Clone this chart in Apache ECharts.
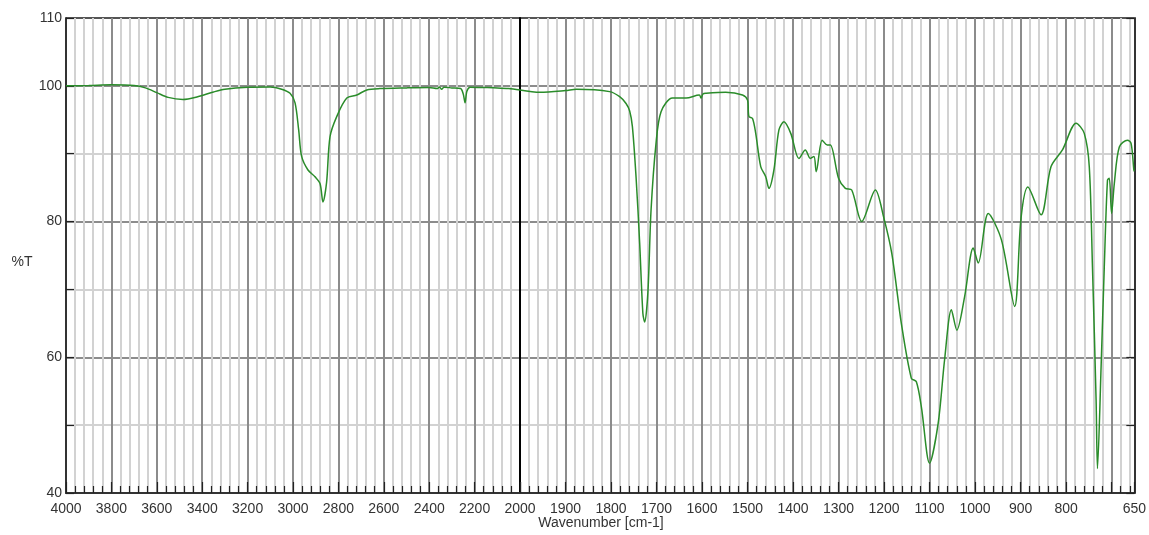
<!DOCTYPE html>
<html>
<head>
<meta charset="utf-8">
<script src="https://cdn.jsdelivr.net/npm/echarts@6/dist/echarts.min.js"></script>
<style>html,body{margin:0;padding:0;background:#fff}#c{width:1149px;height:535px}</style>
</head>
<body>
<div id="c"></div>
<script>
// ---- data ----
const wavenumbers = [4000, 3900, 3800, 3700, 3650, 3600, 3550, 3485, 3420, 3350, 3300, 3200, 3100, 3050, 3013, 2991, 2975, 2962, 2934, 2903, 2881, 2868, 2852, 2837, 2807, 2763, 2719, 2675, 2617, 2500, 2400, 2365, 2355, 2345, 2335, 2300, 2262, 2250, 2242, 2234, 2220, 2150, 2100, 2050, 2000,
  1956, 1900, 1876, 1803, 1781, 1767, 1759, 1753, 1745, 1737, 1730, 1726, 1719, 1712, 1701, 1690, 1665, 1635, 1606, 1602, 1598, 1591, 1548, 1511, 1500, 1497, 1489, 1482, 1471, 1460, 1453, 1442, 1431, 1420, 1405, 1387, 1373, 1362, 1354, 1349, 1336, 1325, 1318, 1300, 1285, 1271, 1249, 1219, 1201, 1183, 1162, 1140, 1129, 1118, 1100, 1081, 1067, 1052, 1040, 1023, 1004, 993, 971, 942, 913, 899, 884, 855, 833, 808, 778, 760, 749, 742, 734, 731, 723, 716, 709, 705, 700, 694, 683, 665, 657, 651, 650];
const transmittance = [100.0, 100.05, 100.15, 100.05, 99.7, 99.0, 98.3, 98.0, 98.4, 99.1, 99.5, 99.8, 99.85, 99.5, 98.9, 97.5, 93.5, 89.6, 87.6, 86.6, 85.6, 82.9, 85.8, 92.5, 95.5, 98.2, 98.65, 99.4, 99.6, 99.7, 99.75, 99.6, 99.85, 99.5, 99.8, 99.7, 99.6, 98.8, 97.5, 99.2, 99.8, 99.75, 99.7, 99.6, 99.4,
  99.05, 99.3, 99.5, 99.15, 98.4, 97.4, 96.3, 94.0, 86.6, 76.8, 66.5, 65.2, 69.5, 81.7, 91.6, 96.2, 98.2, 98.2, 98.65, 98.2, 98.8, 98.9, 99.05, 98.65, 97.9, 95.5, 95.2, 93.0, 88.1, 86.6, 84.9, 87.6, 93.5, 94.7, 93.0, 89.3, 90.55, 89.3, 89.6, 87.35, 92.0, 91.3, 91.3, 86.4, 84.9, 84.65, 80.0, 84.65, 80.7, 75.3, 65.0, 56.9, 56.4, 52.7, 44.4, 50.3, 59.6, 67.0, 64.0, 68.9, 76.1, 73.9, 81.2, 77.3, 67.5, 80.5, 85.1, 81.0, 88.1, 90.55, 94.5, 93.0, 88.1, 73.35, 53.7, 43.6, 58.6, 73.35, 86.1, 86.4, 81.2, 85.6, 91.0, 92.0, 91.5, 87.6, 87.4];
const yLabelValues = [40, 60, 80, 100, 110];
const hiddenXLabels = [700];
const splitWavenumber = 2000;

// ---- build series data ----
const points = wavenumbers.map((w, i) => [w, transmittance[i]]);
const leftData = points.filter(p => p[0] >= splitWavenumber);
const rightData = points.filter(p => p[0] <= splitWavenumber);

const FONT = '"Liberation Sans", Arial, sans-serif';
const MAJOR = '#8c8c8c', MINOR = '#d2d2d2', TICK = '#222';
const labelStyle = { fontFamily: FONT, fontSize: 14, color: '#333' };
const ySplitColors = [MAJOR, MINOR, MAJOR, MINOR, MAJOR, MINOR, MAJOR, '#555'];

function xAxisCommon(gridIndex) {
  return {
    type: 'value', gridIndex: gridIndex, inverse: true,
    axisLine: { show: true, onZero: false, lineStyle: { color: '#333', width: 2 } },
    axisTick: { show: true, inside: true, length: 11, lineStyle: { color: TICK, width: 1.2 } },
    minorTick: { show: true, splitNumber: 5, length: 7, lineStyle: { color: TICK, width: 1.2 } },
    splitLine: { show: true, lineStyle: { color: MAJOR, width: 2 } },
    minorSplitLine: { show: true, lineStyle: { color: MINOR, width: 2 } }
  };
}

const yBase = { type: 'value', min: 40, max: 110, interval: 10 };

const option = {
  animation: false,
  backgroundColor: '#fff',
  grid: [
    { left: 66, top: 18, width: 454, height: 475 },
    { left: 520, top: 18, width: 617, height: 475 }
  ],
  xAxis: [
    Object.assign(xAxisCommon(0), {
      min: 2000, max: 4000, interval: 200,
      axisLabel: Object.assign({ margin: 9, showMinLabel: false, formatter: v => String(v) }, labelStyle)
    }),
    Object.assign(xAxisCommon(1), {
      min: 650, max: 2000, splitNumber: 14, minInterval: 100, maxInterval: 100,
      axisLabel: Object.assign({ margin: 9, formatter: v => hiddenXLabels.includes(v) ? '' : String(v) }, labelStyle)
    })
  ],
  yAxis: [
    Object.assign({}, yBase, {
      gridIndex: 0, position: 'left',
      axisLine: { show: true, lineStyle: { color: '#333', width: 2 } },
      axisTick: { show: true, inside: true, length: 8, lineStyle: { color: TICK, width: 1.2 } },
      axisLabel: Object.assign({ margin: 4, formatter: v => yLabelValues.includes(v) ? String(v) : '' }, labelStyle),
      splitLine: { show: true, lineStyle: { color: ySplitColors, width: 2 } }
    }),
    Object.assign({}, yBase, {
      gridIndex: 1, position: 'left',
      axisLine: { show: true, lineStyle: { color: '#000', width: 2 } },
      axisTick: { show: false }, axisLabel: { show: false },
      splitLine: { show: true, lineStyle: { color: ySplitColors, width: 2 } }
    }),
    Object.assign({}, yBase, {
      gridIndex: 1, position: 'right',
      axisLine: { show: true, lineStyle: { color: '#333', width: 2 } },
      axisTick: { show: true, inside: true, length: 8, lineStyle: { color: TICK, width: 1.2 } },
      axisLabel: { show: false }, splitLine: { show: false }
    })
  ],
  graphic: [{
    type: 'text', x: 601, y: 523, z: 10,
    style: { text: 'Wavenumber [cm-1]', font: '14px "Liberation Sans", Arial, sans-serif',
      align: 'center', verticalAlign: 'middle', textAlign: 'center', textVerticalAlign: 'middle', fill: '#333' }
  }, {
    type: 'text', x: 22, y: 262, z: 10,
    style: { text: '%T', font: '14px "Liberation Sans", Arial, sans-serif',
      align: 'center', verticalAlign: 'middle', textAlign: 'center', textVerticalAlign: 'middle', fill: '#333' }
  }],
  series: [
    { type: 'line', xAxisIndex: 0, yAxisIndex: 0, data: leftData, showSymbol: false, smooth: 0.3,
      lineStyle: { color: '#2a8c2a', width: 1.5 }, z: 5 },
    { type: 'line', xAxisIndex: 1, yAxisIndex: 1, data: rightData, showSymbol: false, smooth: 0.3,
      lineStyle: { color: '#2a8c2a', width: 1.5 }, z: 5 }
  ]
};

const chart = echarts.init(document.getElementById('c'), null, { renderer: 'canvas' });
chart.setOption(option);
</script>
</body>
</html>
